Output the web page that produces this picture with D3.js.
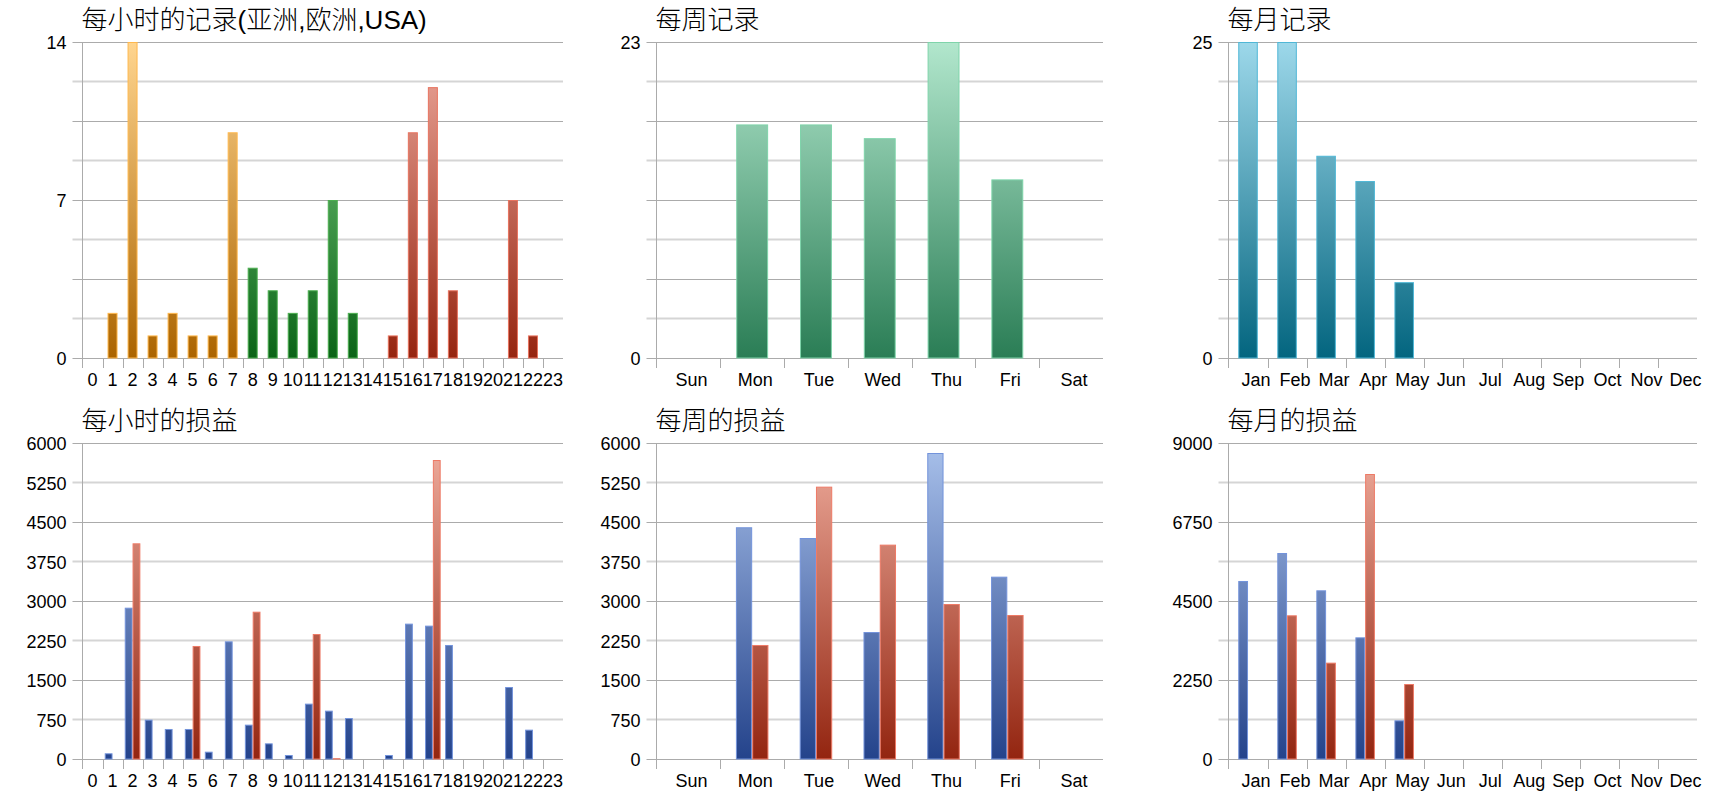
<!DOCTYPE html>
<html>
<head>
<meta charset="utf-8">
<script src="https://cdn.jsdelivr.net/npm/d3@7"></script>
<style>
  body { margin: 0; background: #fff; }
  text { font-family: "Liberation Sans", Arial, "Noto Sans CJK SC", sans-serif; }
</style>
</head>
<body>
<svg id="chart" width="1720" height="800"></svg>
<script>
// categories
let hours = ["0","1","2","3","4","5","6","7","8","9","10","11","12","13","14","15","16","17","18","19","20","21","22","23"];
let weekdays = ["Sun","Mon","Tue","Wed","Thu","Fri","Sat"];
let months = ["Jan","Feb","Mar","Apr","May","Jun","Jul","Aug","Sep","Oct","Nov","Dec"];

// region of each hour (亚洲 / 欧洲 / USA)
let hourRegion = ["asia","asia","asia","asia","asia","asia","asia","asia",
                  "europe","europe","europe","europe","europe","europe",
                  "usa","usa","usa","usa","usa","usa","usa","usa","usa","usa"];

// records
let hourRecords = [0,2,14,1,2,1,1,10,4,3,2,3,7,2,0,1,10,12,3,0,0,7,1,0];
let weekRecords = [0,17,17,16,23,13,0];
let monthRecords = [25,25,16,14,6,0,0,0,0,0,0,0];

// profit (blue) / loss (red)
let hourProfit = [0,108,2873,747,570,570,139,2234,652,297,76,1051,918,778,0,76,2570,2532,2165,0,0,1367,557,0];
let hourLoss   = [0,0,4095,0,0,2146,0,0,2797,0,0,2373,15,0,0,0,0,5677,0,0,0,0,0,0];
let weekProfit = [0,4400,4196,2411,5810,3462,0];
let weekLoss   = [0,2165,5171,4070,2943,2734,0];
let monthProfit = [5070,5867,4804,3465,1101,0,0,0,0,0,0,0];
let monthLoss   = [0,4092,2744,8117,2136,0,0,0,0,0,0,0];

// y tick labels
let hourRecordTicks = [0,7,14];
let weekRecordTicks = [0,23];
let monthRecordTicks = [0,25];
let plTicks = [0,750,1500,2250,3000,3750,4500,5250,6000];
let monthPlTicks = [0,2250,4500,6750,9000];

let svg = d3.select("#chart");
let defs = svg.append("defs");

let cols = [{x0: 82.5, x1: 563}, {x0: 656.5, x1: 1103}, {x0: 1228.5, x1: 1697}];
let rows = [{top: 42, bottom: 358}, {top: 443, bottom: 759}];

let gradCount = 0;
let makeGrad = (c1, c2, row) => {
  let id = "g" + (gradCount++);
  let lg = defs.append("linearGradient")
    .attr("id", id)
    .attr("gradientUnits", "userSpaceOnUse")
    .attr("x1", 0).attr("x2", 0)
    .attr("y1", row.top).attr("y2", row.bottom);
  lg.append("stop").attr("offset", 0).attr("stop-color", c1);
  lg.append("stop").attr("offset", 1).attr("stop-color", c2);
  return "url(#" + id + ")";
};

let drawChart = (opt) => {
  let col = cols[opt.col], row = rows[opt.row];
  let g = svg.append("g");

  let x = d3.scaleBand().domain(opt.cats).range([col.x0, col.x1]);
  let y = d3.scaleLinear().domain([0, opt.max]).range([row.bottom, row.top]);
  let bw = x.bandwidth();

  // gridlines, 8 steps, alternating
  let grid = d3.range(9).map(i => opt.max * i / 8);
  g.selectAll(".minor")
    .data(grid.filter((d, i) => i % 2 === 1))
    .enter().append("line")
    .attr("x1", col.x0 - 10).attr("x2", col.x1)
    .attr("y1", d => y(d)).attr("y2", d => y(d))
    .attr("stroke", "#d5d5d5").attr("stroke-width", 2);
  g.selectAll(".major")
    .data(grid.filter((d, i) => i % 2 === 0))
    .enter().append("line")
    .attr("x1", col.x0 - 10).attr("x2", col.x1)
    .attr("y1", d => Math.round(y(d)) + 0.5).attr("y2", d => Math.round(y(d)) + 0.5)
    .attr("stroke", "#ababab").attr("stroke-width", 1);

  // bars
  let n = opt.series.length;
  let group = bw * opt.frac;
  opt.series.forEach((s, k) => {
    let w = group / n;
    g.selectAll(null)
      .data(s.values.map((v, i) => ({v: v, i: i})).filter(d => d.v > 0))
      .enter().append("rect")
      .attr("x", d => x(opt.cats[d.i]) + (bw - group) / 2 + k * w + 0.5)
      .attr("width", w - 1)
      .attr("y", d => y(d.v) + 0.5)
      .attr("height", d => y(0) - y(d.v) - 0.5)
      .attr("fill", d => s.fill(d.i))
      .attr("stroke", d => s.stroke(d.i))
      .attr("stroke-width", 1);
  });

  // axis line and ticks between categories
  g.append("line")
    .attr("x1", col.x0).attr("x2", col.x0)
    .attr("y1", row.top).attr("y2", row.bottom + 10)
    .attr("stroke", "#ababab");
  g.selectAll(".xtick")
    .data(opt.cats.slice(1))
    .enter().append("line")
    .attr("x1", d => Math.round(x(d)) + 0.5).attr("x2", d => Math.round(x(d)) + 0.5)
    .attr("y1", row.bottom).attr("y2", row.bottom + 10)
    .attr("stroke", "#ababab");

  // labels
  g.append("g")
    .attr("transform", `translate(0,${row.bottom})`)
    .call(d3.axisBottom(x).tickSize(0).tickPadding(15))
    .call(a => a.select(".domain").remove())
    .selectAll("text")
    .attr("font-size", 18).attr("fill", "#000")
    .attr("font-family", "Liberation Sans, Arial, sans-serif")
    .attr("dx", opt.labelDx);

  g.append("g")
    .attr("transform", `translate(${col.x0},1)`)
    .call(d3.axisLeft(y).tickValues(opt.ticks).tickFormat(d3.format("d")).tickSize(0).tickPadding(16))
    .call(a => a.select(".domain").remove())
    .selectAll("text")
    .attr("font-size", 18).attr("fill", "#000")
    .attr("font-family", "Liberation Sans, Arial, sans-serif");

  g.append("text")
    .attr("x", col.x0 - 1)
    .attr("y", row.top - 13)
    .attr("font-size", 26)
    .attr("font-weight", 300)
    .attr("fill", "#000")
    .text(opt.title);
};

// gradients
let asiaFill = makeGrad("#ffd58f", "#ab6400", rows[0]);
let europeFill = makeGrad("#86d68a", "#0b6417", rows[0]);
let usaFill = makeGrad("#eeaa9e", "#952510", rows[0]);
let regionFill = {asia: asiaFill, europe: europeFill, usa: usaFill};
let regionStroke = {asia: "#ffb84d", europe: "#4caf50", usa: "#e8735f"};

let weekFill = makeGrad("#b2e7cd", "#2a7d55", rows[0]);
let monthFill = makeGrad("#9dd8ea", "#03657f", rows[0]);

let blueFill = makeGrad("#a9c1eb", "#24438b", rows[1]);
let redFill = makeGrad("#efad9e", "#932510", rows[1]);
let blueStroke = "#7393db", redStroke = "#ee7a66";

drawChart({
  col: 0, row: 0, title: "每小时的记录(亚洲,欧洲,USA)",
  cats: hours, max: 14, ticks: hourRecordTicks, frac: 0.5, labelDx: 0,
  series: [{values: hourRecords, fill: i => regionFill[hourRegion[i]], stroke: i => regionStroke[hourRegion[i]]}]
});
drawChart({
  col: 1, row: 0, title: "每周记录",
  cats: weekdays, max: 23, ticks: weekRecordTicks, frac: 0.5, labelDx: 3,
  series: [{values: weekRecords, fill: () => weekFill, stroke: () => "#7fd4aa"}]
});
drawChart({
  col: 2, row: 0, title: "每月记录",
  cats: months, max: 25, ticks: monthRecordTicks, frac: 0.5, labelDx: 8,
  series: [{values: monthRecords, fill: () => monthFill, stroke: () => "#4fb7d6"}]
});
drawChart({
  col: 0, row: 1, title: "每小时的损益",
  cats: hours, max: 6000, ticks: plTicks, frac: 0.78, labelDx: 0,
  series: [
    {values: hourProfit, fill: () => blueFill, stroke: () => blueStroke},
    {values: hourLoss, fill: () => redFill, stroke: () => redStroke}
  ]
});
drawChart({
  col: 1, row: 1, title: "每周的损益",
  cats: weekdays, max: 6000, ticks: plTicks, frac: 0.51, labelDx: 3,
  series: [
    {values: weekProfit, fill: () => blueFill, stroke: () => blueStroke},
    {values: weekLoss, fill: () => redFill, stroke: () => redStroke}
  ]
});
drawChart({
  col: 2, row: 1, title: "每月的损益",
  cats: months, max: 9000, ticks: monthPlTicks, frac: 0.5, labelDx: 8,
  series: [
    {values: monthProfit, fill: () => blueFill, stroke: () => blueStroke},
    {values: monthLoss, fill: () => redFill, stroke: () => redStroke}
  ]
});
</script>
</body>
</html>
